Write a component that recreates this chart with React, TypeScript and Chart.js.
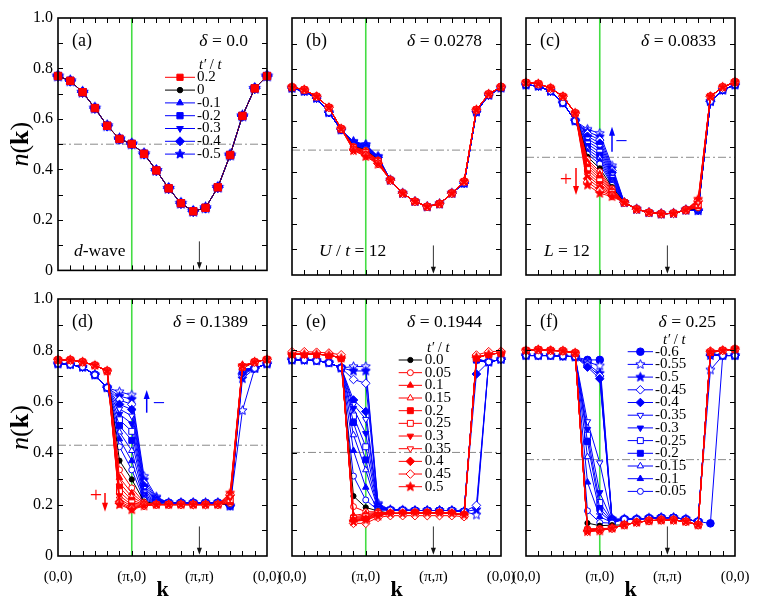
import React, { useEffect, useRef } from 'react';
import { Chart, registerables } from 'chart.js';
import { drawPoint } from 'chart.js/helpers';

Chart.register(...registerables);

const FONT = '"Liberation Serif", "Times New Roman", Times, serif';

// ---------------- data ----------------
const kPoints = [0, 1, 2, 3, 4, 5, 6, 7, 8, 9, 10, 11, 12, 13, 14, 15, 16, 17];
const xTickValues = [0, 6, 11.5, 17];
const xTickLabels = ['(0,0)', '(π,0)', '(π,π)', '(0,0)'];
const panelLetters = ['(a)', '(b)', '(c)', '(d)', '(e)', '(f)'];
const deltaLabels = ['0.0', '0.0278', '0.0833', '0.1389', '0.1944', '0.25'];
const halfFilling = [0.5, 0.486, 0.458, 0.431, 0.403, 0.375];

const tpAll = [0.5, 0.45, 0.4, 0.35, 0.3, 0.25, 0.2, 0.15, 0.1, 0.05, 0, -0.05, -0.1, -0.15, -0.2, -0.25, -0.3, -0.35, -0.4, -0.45, -0.5, -0.55, -0.6];
const tpBE = [0.5, 0.45, 0.4, 0.35, 0.3, 0.25, 0.2, 0.15, 0.1, 0.05, 0, -0.05, -0.1, -0.15, -0.2, -0.25, -0.3, -0.35, -0.4, -0.45, -0.5, -0.55];
const tpA = [0.2, 0, -0.1, -0.2, -0.3, -0.4, -0.5];

const legendA = [0.2, 0, -0.1, -0.2, -0.3, -0.4, -0.5];
const legendALabels = ['0.2', '0', '-0.1', '-0.2', '-0.3', '-0.4', '-0.5'];
const legendE = [0, 0.05, 0.1, 0.15, 0.2, 0.25, 0.3, 0.35, 0.4, 0.45, 0.5];
const legendELabels = ['0.0', '0.05', '0.1', '0.15', '0.2', '0.25', '0.3', '0.35', '0.4', '0.45', '0.5'];
const legendF = [-0.6, -0.55, -0.5, -0.45, -0.4, -0.35, -0.3, -0.25, -0.2, -0.15, -0.1, -0.05];
const legendFLabels = ['-0.6', '-0.55', '-0.5', '-0.45', '-0.4', '-0.35', '-0.3', '-0.25', '-0.2', '-0.15', '-0.1', '-0.05'];

// (a) delta = 0
const nA = [0.770, 0.751, 0.706, 0.643, 0.573, 0.521, 0.501, 0.462, 0.396, 0.325, 0.266, 0.234, 0.248, 0.329, 0.457, 0.612, 0.721, 0.770];

// (b) delta = 0.0278
const bRed = [0.731, 0.721, 0.695, 0.652, 0.569, 0.484, 0.461, 0.431, 0.369, 0.318, 0.286, 0.266, 0.277, 0.318, 0.364, 0.643, 0.704, 0.732];
const bBlue = [0.727, 0.715, 0.688, 0.632, 0.565, 0.52, 0.508, 0.462, 0.369, 0.318, 0.286, 0.266, 0.277, 0.318, 0.357, 0.635, 0.7, 0.728];
const bFan5 = [0.484, 0.486, 0.488, 0.49, 0.492, 0.494, 0.495, 0.497, 0.498, 0.5, 0.501, 0.503, 0.504, 0.506, 0.508, 0.51, 0.511, 0.513, 0.515, 0.517, 0.518, 0.52];
const bFan6 = [0.461, 0.464, 0.467, 0.47, 0.472, 0.475, 0.477, 0.48, 0.482, 0.484, 0.486, 0.488, 0.49, 0.492, 0.494, 0.496, 0.498, 0.5, 0.502, 0.504, 0.506, 0.508];
const bFan7 = [0.431, 0.433, 0.435, 0.437, 0.439, 0.441, 0.443, 0.445, 0.446, 0.447, 0.448, 0.449, 0.45, 0.451, 0.452, 0.454, 0.455, 0.457, 0.458, 0.459, 0.46, 0.462];

// (c) delta = 0.0833
const cRed = [0.749, 0.744, 0.727, 0.695, 0.63, 0.35, 0.318, 0.305, 0.282, 0.256, 0.243, 0.238, 0.24, 0.253, 0.295, 0.695, 0.731, 0.751];
const cBlue = [0.74, 0.735, 0.715, 0.67, 0.6, 0.567, 0.551, 0.425, 0.282, 0.256, 0.243, 0.238, 0.24, 0.253, 0.25, 0.675, 0.72, 0.74];
const cFan5 = [0.35, 0.362, 0.375, 0.387, 0.398, 0.41, 0.42, 0.43, 0.44, 0.449, 0.46, 0.47, 0.48, 0.49, 0.5, 0.51, 0.52, 0.53, 0.54, 0.55, 0.558, 0.567];
const cFan6 = [0.318, 0.328, 0.338, 0.347, 0.356, 0.366, 0.375, 0.384, 0.393, 0.402, 0.415, 0.432, 0.443, 0.455, 0.466, 0.478, 0.49, 0.501, 0.513, 0.525, 0.538, 0.551];
const cFan7 = [0.305, 0.308, 0.311, 0.314, 0.317, 0.32, 0.323, 0.327, 0.331, 0.336, 0.342, 0.349, 0.355, 0.361, 0.368, 0.375, 0.382, 0.39, 0.398, 0.406, 0.415, 0.425];
const cFan14 = [0.295, 0.291, 0.287, 0.283, 0.279, 0.275, 0.271, 0.268, 0.265, 0.262, 0.259, 0.257, 0.256, 0.255, 0.254, 0.253, 0.253, 0.252, 0.252, 0.251, 0.251, 0.25];

// (d) delta = 0.1389
const dRed = [0.763, 0.763, 0.755, 0.742, 0.72, 0.2, 0.18, 0.195, 0.2, 0.2, 0.2, 0.2, 0.2, 0.2, 0.245, 0.741, 0.755, 0.765];
const dBlue = [0.748, 0.745, 0.735, 0.705, 0.655, 0.639, 0.626, 0.31, 0.23, 0.207, 0.207, 0.207, 0.207, 0.207, 0.195, 0.566, 0.73, 0.748];
const dFan5 = [0.2, 0.205, 0.212, 0.222, 0.235, 0.25, 0.268, 0.285, 0.305, 0.335, 0.371, 0.425, 0.455, 0.482, 0.507, 0.53, 0.552, 0.572, 0.59, 0.607, 0.622, 0.639];
const dFan6 = [0.18, 0.184, 0.188, 0.193, 0.199, 0.207, 0.217, 0.23, 0.245, 0.265, 0.298, 0.335, 0.37, 0.41, 0.45, 0.485, 0.515, 0.545, 0.57, 0.59, 0.61, 0.626];
const dFan7 = [0.195, 0.196, 0.197, 0.198, 0.199, 0.2, 0.201, 0.203, 0.205, 0.208, 0.212, 0.218, 0.224, 0.23, 0.237, 0.245, 0.254, 0.263, 0.273, 0.284, 0.296, 0.31];
const dFan8 = [0.2, 0.2, 0.2, 0.2, 0.2, 0.2, 0.2, 0.2, 0.2, 0.2, 0.203, 0.205, 0.207, 0.209, 0.211, 0.213, 0.215, 0.217, 0.219, 0.222, 0.226, 0.23];
const dFan14 = [0.245, 0.24, 0.235, 0.23, 0.225, 0.22, 0.215, 0.21, 0.207, 0.205, 0.203, 0.2, 0.2, 0.199, 0.198, 0.197, 0.196, 0.196, 0.195, 0.195, 0.195, 0.195];
const dFan15 = [0.741, 0.74, 0.739, 0.738, 0.737, 0.736, 0.735, 0.734, 0.733, 0.732, 0.73, 0.728, 0.726, 0.724, 0.722, 0.72, 0.718, 0.715, 0.711, 0.705, 0.69, 0.566];

// (e) delta = 0.1944
const eRed = [0.785, 0.785, 0.785, 0.782, 0.77, 0.134, 0.14, 0.155, 0.166, 0.166, 0.168, 0.168, 0.168, 0.166, 0.16, 0.773, 0.785, 0.79];
const eBlue = [0.763, 0.763, 0.76, 0.752, 0.732, 0.737, 0.737, 0.205, 0.179, 0.178, 0.177, 0.177, 0.177, 0.177, 0.173, 0.16, 0.755, 0.765];
const e045 = [0.795, 0.795, 0.793, 0.79, 0.783, 0.127, 0.127, 0.15, 0.157, 0.157, 0.157, 0.157, 0.157, 0.157, 0.153, 0.782, 0.795, 0.797];
const eFan5 = [0.134, 0.127, 0.136, 0.139, 0.142, 0.145, 0.148, 0.152, 0.158, 0.192, 0.233, 0.311, 0.41, 0.471, 0.519, 0.545, 0.575, 0.59, 0.607, 0.687, 0.72, 0.737];
const eFan6 = [0.14, 0.127, 0.142, 0.145, 0.148, 0.152, 0.156, 0.16, 0.165, 0.172, 0.189, 0.218, 0.267, 0.335, 0.374, 0.425, 0.477, 0.532, 0.562, 0.672, 0.72, 0.737];
const eFan7 = [0.155, 0.15, 0.157, 0.16, 0.162, 0.164, 0.166, 0.168, 0.17, 0.172, 0.175, 0.178, 0.18, 0.182, 0.184, 0.186, 0.188, 0.19, 0.193, 0.196, 0.2, 0.205];
const eFan15 = [0.773, 0.782, 0.773, 0.772, 0.772, 0.771, 0.771, 0.77, 0.77, 0.77, 0.77, 0.768, 0.766, 0.765, 0.764, 0.762, 0.76, 0.758, 0.708, 0.197, 0.18, 0.16];

// (f) delta = 0.25
const fRed = [0.8, 0.803, 0.8, 0.798, 0.79, 0.095, 0.098, 0.108, 0.121, 0.131, 0.137, 0.14, 0.14, 0.134, 0.121, 0.795, 0.8, 0.805];
const fBlue = [0.78, 0.78, 0.78, 0.778, 0.775, 0.763, 0.763, 0.143, 0.143, 0.143, 0.147, 0.149, 0.149, 0.143, 0.134, 0.785, 0.78, 0.78];
const fFan5 = [0.095, 0.096, 0.097, 0.098, 0.099, 0.1, 0.101, 0.102, 0.104, 0.106, 0.128, 0.176, 0.287, 0.386, 0.445, 0.47, 0.493, 0.523, 0.735, 0.742, 0.748, 0.755, 0.763];
const fFan6 = [0.098, 0.099, 0.1, 0.1, 0.101, 0.102, 0.103, 0.104, 0.105, 0.107, 0.118, 0.13, 0.153, 0.17, 0.185, 0.208, 0.247, 0.363, 0.69, 0.7, 0.711, 0.74, 0.763];
const fFan7 = [0.108, 0.108, 0.108, 0.108, 0.108, 0.108, 0.108, 0.108, 0.108, 0.108, 0.12, 0.128, 0.13, 0.132, 0.134, 0.136, 0.138, 0.14, 0.141, 0.142, 0.143, 0.143, 0.143];
const fFan15 = [0.795, 0.797, 0.795, 0.795, 0.794, 0.794, 0.793, 0.793, 0.792, 0.792, 0.79, 0.789, 0.788, 0.787, 0.786, 0.785, 0.784, 0.783, 0.782, 0.781, 0.78, 0.724, 0.127];

type PanelData = {
  tps: number[];
  red: number[];
  blue: number[];
  fans: Record<number, number[]>;
  overrides: Record<string, number[]>;
};

const panelData: PanelData[] = [
  { tps: tpA, red: nA, blue: nA, fans: {}, overrides: {} },
  { tps: tpBE, red: bRed, blue: bBlue, fans: { 5: bFan5, 6: bFan6, 7: bFan7 }, overrides: {} },
  { tps: tpBE, red: cRed, blue: cBlue, fans: { 5: cFan5, 6: cFan6, 7: cFan7, 14: cFan14 }, overrides: {} },
  { tps: tpBE, red: dRed, blue: dBlue, fans: { 5: dFan5, 6: dFan6, 7: dFan7, 8: dFan8, 14: dFan14, 15: dFan15 }, overrides: {} },
  { tps: tpBE, red: eRed, blue: eBlue, fans: { 5: eFan5, 6: eFan6, 7: eFan7, 15: eFan15 }, overrides: { '0.45': e045 } },
  { tps: tpAll, red: fRed, blue: fBlue, fans: { 5: fFan5, 6: fFan6, 7: fFan7, 15: fFan15 }, overrides: {} },
];

// ---------------- styling ----------------
const RED = '#ff0000';
const BLUE = '#0000ff';
const BLACK = '#000000';
const GREEN = '#44dd44';

const shapeByStep = ['circle', 'circle', 'triangle', 'triangle', 'rect', 'rect', 'triangle', 'triangle', 'rectRot', 'rectRot', 'star', 'star', 'circle'];
const rotByStep = [0, 0, 0, 0, 0, 0, 180, 180, 0, 0, 0, 0, 0];
const filledByStep = [true, false, true, false, true, false, true, false, true, false, true, false, true];
const radiusByStep = [2.6, 3, 3.7, 3.7, 4.2, 4.2, 3.7, 3.7, 4.3, 4.3, 4.8, 4.8, 3.8];

const starCache: Record<string, HTMLCanvasElement> = {};
function makeStar(color: string, filled: boolean, r: number) {
  const key = color + filled + r;
  if (starCache[key]) return starCache[key];
  const size = Math.ceil(r * 2 + 3);
  const c = document.createElement('canvas');
  c.width = size;
  c.height = size;
  const g = c.getContext('2d')!;
  g.beginPath();
  for (let k = 0; k < 10; k++) {
    const rr = k % 2 === 0 ? r : r * 0.45;
    const ang = -Math.PI / 2 + (k * Math.PI) / 5;
    g.lineTo(size / 2 + rr * Math.cos(ang), size / 2 + rr * Math.sin(ang));
  }
  g.closePath();
  g.fillStyle = filled ? color : '#ffffff';
  g.fill();
  g.strokeStyle = color;
  g.lineWidth = 1;
  g.stroke();
  starCache[key] = c;
  return c;
}

function markerFor(tp: number, scale: number) {
  const step = Math.round(Math.abs(tp) * 20);
  const color = tp > 0 ? RED : tp < 0 ? BLUE : BLACK;
  const filled = filledByStep[step];
  let style: any = shapeByStep[step];
  const radius = radiusByStep[step] * scale;
  if (style === 'star') style = makeStar(color, filled, radius);
  return { style, rotation: rotByStep[step], radius, color, fill: filled ? color : '#ffffff' };
}

type Part = [string, string];
function drawRich(ctx: CanvasRenderingContext2D, parts: Part[], x: number, y: number, size: number, align: 'left' | 'right' | 'center') {
  const widths = parts.map(([t, st]) => {
    ctx.font = `${st} ${size}px ${FONT}`;
    return ctx.measureText(t).width;
  });
  const total = widths.reduce((s, w) => s + w, 0);
  let cx = align === 'right' ? x - total : align === 'center' ? x - total / 2 : x;
  ctx.textAlign = 'left';
  parts.forEach(([t, st], i) => {
    ctx.font = `${st} ${size}px ${FONT}`;
    ctx.fillText(t, cx, y);
    cx += widths[i];
  });
}

// ---------------- layout ----------------
const PLOT_LEFT = [58, 292, 526];
const PLOT_TOP = [18, 299];
const PLOT_W = 209;
const PLOT_H = 257;

const yTickMarks = [0.1, 0.2, 0.3, 0.4, 0.5, 0.6, 0.7, 0.8, 0.9];
const xTickMarks = [1, 2, 3, 4, 5, 6, 7, 8, 9, 10, 11, 12, 13, 14, 15, 16];

const notes: (Part[] | null)[] = [
  [['d', 'italic'], ['-wave', '']],
  [['U', 'italic'], [' / ', ''], ['t', 'italic'], [' = 12', '']],
  [['L', 'italic'], [' = 12', '']],
  null, null, null,
];
const noteX = [16, 27, 18, 0, 0, 0];

type LegendDef = { tps: number[]; labels: string[]; x1: number; x2: number; tx: number; titleX: number; titleY: number; y0: number; dy: number; scale: number };
const legends: (LegendDef | null)[] = [
  { tps: legendA, labels: legendALabels, x1: 107, x2: 137, tx: 139, titleX: 141, titleY: 47, y0: 59.3, dy: 12.8, scale: 1.05 },
  null,
  null,
  null,
  { tps: legendE, labels: legendELabels, x1: 106.7, x2: 130, tx: 132.7, titleX: 135, titleY: 49, y0: 61, dy: 12.67, scale: 1 },
  { tps: legendF, labels: legendFLabels, x1: 101.7, x2: 127, tx: 129, titleX: 137, titleY: 41, y0: 52.7, dy: 12.7, scale: 1 },
];

type ArrowDef = { bx: number; bTip: number; bBot: number; dashX: number; dashY: number; px: number; py: number; rx: number; rTop: number; rTip: number };
const arrowDefs: (ArrowDef | null)[] = [
  null, null,
  { bx: 86, bTip: 108.7, bBot: 133.7, dashX: 95.5, dashY: 124.7, px: 40, py: 162, rx: 50, rTop: 150, rTip: 177 },
  { bx: 88.7, bTip: 91, bBot: 113.7, dashX: 101, dashY: 105, px: 38, py: 197, rx: 47, rTop: 194, rTip: 212.7 },
  null, null,
];

function arrowHead(ctx: CanvasRenderingContext2D, x: number, tipY: number, dir: number, w: number, h: number) {
  ctx.beginPath();
  ctx.moveTo(x, tipY);
  ctx.lineTo(x - w / 2, tipY - dir * h);
  ctx.lineTo(x + w / 2, tipY - dir * h);
  ctx.closePath();
  ctx.fill();
}

function buildDatasets(i: number) {
  const p = panelData[i];
  const scale = i === 0 ? 1.25 : 1;
  const ds: any[] = [];
  p.tps.forEach((tp, si) => {
    const base = tp < 0 ? p.blue : p.red;
    let ys = base.map((v, j) => (p.fans[j] ? p.fans[j][si] : v));
    const ov = p.overrides[String(tp)];
    if (ov) ys = ov;
    const m = markerFor(tp, scale);
    const lineColor = i === 0 && tp > 0 ? 'rgba(200,0,60,0.55)' : m.color;
    ds.push({
      data: kPoints.map((x, j) => ({ x, y: ys[j] })),
      borderColor: lineColor,
      borderWidth: 1,
      pointStyle: m.style,
      pointRotation: m.rotation,
      pointRadius: m.radius,
      pointBackgroundColor: m.fill,
      pointBorderColor: m.color,
      pointBorderWidth: 1,
      clip: false,
      order: tp > 0 ? 0 : tp === 0 ? 1 : 2,
    });
  });
  ds.push({
    data: [{ x: kPoints[0], y: halfFilling[i] }, { x: kPoints[kPoints.length - 1], y: halfFilling[i] }],
    borderColor: '#8a8a8a',
    borderWidth: 1,
    borderDash: [8, 3, 2, 3],
    pointRadius: 0,
    order: 5,
  });
  ds.push({
    data: [{ x: xTickValues[1], y: 0 }, { x: xTickValues[1], y: 1 }],
    borderColor: GREEN,
    borderWidth: 1.6,
    pointRadius: 0,
    order: 6,
  });
  return ds;
}

function PanelChart({ i }: { i: number }) {
  const ref = useRef<HTMLCanvasElement>(null);
  const col = i % 3;
  const row = Math.floor(i / 3);
  const padL = col === 0 ? 58 : 34;
  const padT = row === 0 ? 18 : 20;
  const padR = 34;
  const padB = row === 1 ? 51 : 10;
  const left = PLOT_LEFT[col] - padL;
  const top = PLOT_TOP[row] - padT;
  const w = padL + PLOT_W + padR;
  const h = padT + PLOT_H + padB;

  useEffect(() => {
    const decor = {
      id: 'decor' + i,
      afterDatasetsDraw(chart: any) {
        const { ctx, chartArea: a, scales } = chart;
        const xs = scales.x;
        const ys = scales.y;
        ctx.save();
        ctx.strokeStyle = '#000';
        ctx.fillStyle = '#000';
        ctx.lineWidth = 1;
        // inward tick marks
        ctx.beginPath();
        yTickMarks.forEach((v) => {
          const py = Math.round(ys.getPixelForValue(v)) + 0.5;
          ctx.moveTo(a.left, py);
          ctx.lineTo(a.left + 5, py);
          ctx.moveTo(a.right, py);
          ctx.lineTo(a.right - 5, py);
        });
        xTickMarks.forEach((v) => {
          const px = Math.round(xs.getPixelForValue(v)) + 0.5;
          ctx.moveTo(px, a.bottom);
          ctx.lineTo(px, a.bottom - 5);
          ctx.moveTo(px, a.top);
          ctx.lineTo(px, a.top + 5);
        });
        ctx.stroke();
        // frame
        ctx.lineWidth = 1.6;
        ctx.strokeRect(a.left, a.top, a.right - a.left, a.bottom - a.top);
        // (pi,pi) arrow
        const ax = xs.getPixelForValue(xTickValues[2]);
        const ay0 = ys.getPixelForValue(0.115);
        const ay1 = ys.getPixelForValue(0.005);
        ctx.strokeStyle = '#333';
        ctx.fillStyle = '#111';
        ctx.lineWidth = 1;
        ctx.beginPath();
        ctx.moveTo(ax, ay0);
        ctx.lineTo(ax, ay1 - 5);
        ctx.stroke();
        arrowHead(ctx, ax, ay1, 1, 5, 7);

        // labels
        ctx.fillStyle = '#000';
        ctx.textBaseline = 'alphabetic';
        drawRich(ctx, [[panelLetters[i], '']], a.left + 14, a.top + 28, 18, 'left');
        drawRich(ctx, [['δ', 'italic'], [' = ' + deltaLabels[i], '']], a.right - 19, a.top + 28, 17.5, 'right');
        const note = notes[i];
        if (note) drawRich(ctx, note, a.left + noteX[i], a.top + 238, 17.5, 'left');

        // y title
        if (col === 0) {
          ctx.save();
          ctx.translate(a.left - 37, (a.top + a.bottom) / 2);
          ctx.rotate(-Math.PI / 2);
          ctx.textBaseline = 'middle';
          drawRich(ctx, [['n', 'italic'], ['(', ''], ['k', 'bold'], [')', '']], 0, 0, 26, 'center');
          ctx.restore();
        }

        // +/- arrows
        const ad = arrowDefs[i];
        if (ad) {
          ctx.textBaseline = 'middle';
          ctx.strokeStyle = BLUE;
          ctx.fillStyle = BLUE;
          ctx.lineWidth = 1.5;
          ctx.beginPath();
          ctx.moveTo(a.left + ad.bx, a.top + ad.bBot);
          ctx.lineTo(a.left + ad.bx, a.top + ad.bTip + 6);
          ctx.stroke();
          arrowHead(ctx, a.left + ad.bx, a.top + ad.bTip, -1, 6, 9);
          ctx.font = `22px ${FONT}`;
          ctx.textAlign = 'center';
          ctx.fillText('−', a.left + ad.dashX, a.top + ad.dashY);
          ctx.strokeStyle = RED;
          ctx.fillStyle = RED;
          ctx.fillText('+', a.left + ad.px, a.top + ad.py);
          ctx.beginPath();
          ctx.moveTo(a.left + ad.rx, a.top + ad.rTop);
          ctx.lineTo(a.left + ad.rx, a.top + ad.rTip - 6);
          ctx.stroke();
          arrowHead(ctx, a.left + ad.rx, a.top + ad.rTip, 1, 6, 9);
        }

        // legend
        const lg = legends[i];
        if (lg) {
          ctx.textBaseline = 'middle';
          ctx.fillStyle = '#000';
          drawRich(ctx, [['t′', 'italic'], [' / ', ''], ['t', 'italic']], a.left + lg.titleX, a.top + lg.titleY, 14.5, 'left');
          lg.tps.forEach((tp, k) => {
            const y = a.top + lg.y0 + k * lg.dy;
            const m = markerFor(tp, lg.scale);
            ctx.strokeStyle = m.color;
            ctx.lineWidth = 1;
            ctx.beginPath();
            ctx.moveTo(a.left + lg.x1, y);
            ctx.lineTo(a.left + lg.x2, y);
            ctx.stroke();
            ctx.fillStyle = m.fill;
            drawPoint(ctx, { pointStyle: m.style, rotation: m.rotation, radius: m.radius, borderWidth: 1 } as any, a.left + (lg.x1 + lg.x2) / 2, y);
            ctx.fillStyle = '#000';
            ctx.font = `15px ${FONT}`;
            ctx.textAlign = 'left';
            ctx.fillText(lg.labels[k], a.left + lg.tx, y);
          });
        }
        ctx.restore();
      },
    };

    const chart = new Chart(ref.current!, {
      type: 'line',
      data: { datasets: buildDatasets(i) },
      options: {
        responsive: false,
        animation: false,
        devicePixelRatio: 1,
        layout: { padding: { top: padT, right: padR, left: 0, bottom: 0 } },
        plugins: { legend: { display: false }, tooltip: { enabled: false } },
        elements: { line: { tension: 0 } },
        scales: {
          x: {
            type: 'linear',
            min: kPoints[0],
            max: kPoints[kPoints.length - 1],
            grid: { display: false, drawTicks: false },
            border: { display: false },
            afterFit: (s: any) => {
              s.height = padB;
            },
            afterBuildTicks: (s: any) => {
              s.ticks = xTickValues.map((v) => ({ value: v }));
            },
            ticks: {
              display: row === 1,
              autoSkip: false,
              maxRotation: 0,
              padding: 12,
              color: '#000',
              font: { family: FONT, size: 15 },
              callback: (_v: any, idx: number) => xTickLabels[idx],
            },
            title: {
              display: row === 1,
              text: 'k',
              color: '#000',
              font: { family: FONT, size: 22, weight: 'bold' },
              padding: { top: 0, bottom: 3 },
            },
          },
          y: {
            type: 'linear',
            min: 0,
            max: 1,
            grid: { display: false, drawTicks: false },
            border: { display: false },
            afterFit: (s: any) => {
              s.width = padL;
            },
            ticks: {
              display: col === 0,
              stepSize: 0.2,
              padding: 5,
              color: '#000',
              font: { family: FONT, size: 16 },
            },
          },
        },
      } as any,
      plugins: [decor],
    });
    return () => chart.destroy();
  }, []);

  return <canvas ref={ref} width={w} height={h} style={{ position: 'absolute', left, top, width: w, height: h }} />;
}

export default function App() {
  return (
    <div style={{ position: 'fixed', left: 0, top: 0, width: 763, height: 607, background: '#ffffff', overflow: 'hidden' }}>
      {[0, 1, 2, 3, 4, 5].map((i) => (
        <PanelChart key={i} i={i} />
      ))}
    </div>
  );
}
